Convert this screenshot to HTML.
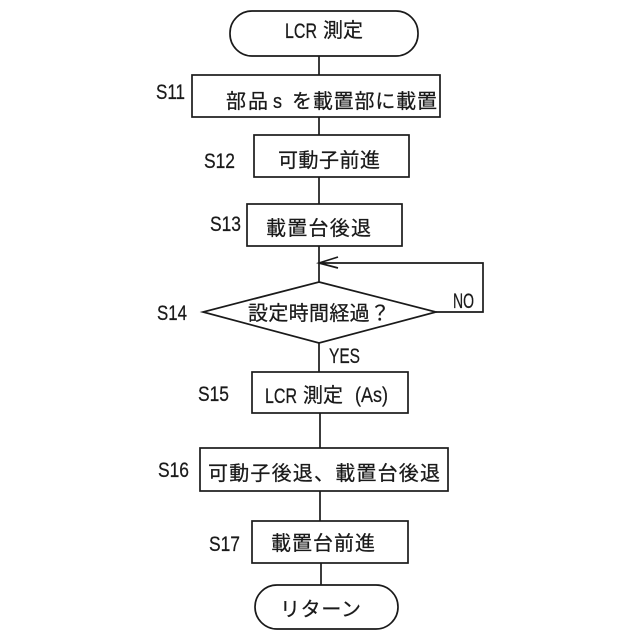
<!DOCTYPE html>
<html lang="ja">
<head>
<meta charset="utf-8">
<style>
html,body{margin:0;padding:0;background:#fff;width:640px;height:640px;overflow:hidden}
svg{display:block}
text{font-family:"Liberation Sans","Noto Sans CJK JP",sans-serif;fill:#1a1a1a;stroke:#1a1a1a;stroke-width:.25}
.j{font-size:20px}
.m{font-size:21px}
.l{font-size:21px}
</style>
</head>
<body>
<svg width="640" height="640" viewBox="0 0 640 640" xmlns="http://www.w3.org/2000/svg">
<g fill="none" stroke="#1a1a1a" stroke-width="1.7">
<path d="M319 56V75M319 117V135M319 177V204M319 246V282M319 343V372M320 413V448M320 491V521M321 563V585"/>
<rect x="230" y="11" width="188" height="45" rx="22" ry="22"/>
<rect x="192" y="75" width="248" height="42"/>
<rect x="254" y="135" width="155" height="42"/>
<rect x="247" y="204" width="155" height="42"/>
<path d="M319 282L436 312L319 343L203 312Z"/>
<path d="M436 312H483V263H319M338 257L319 263L338 268"/>
<rect x="252" y="372" width="156" height="41"/>
<rect x="200" y="448" width="248" height="43"/>
<rect x="252" y="521" width="156" height="42"/>
<rect x="255" y="585" width="143" height="44" rx="22" ry="22"/>
</g>
<text class="m" x="285" y="38" textLength="32" lengthAdjust="spacingAndGlyphs">LCR</text>
<text class="j" x="323" y="37" textLength="40" lengthAdjust="spacing">測定</text>
<text class="j" x="226" y="108" textLength="42" lengthAdjust="spacing">部品</text>
<text class="j" x="273" y="108" textLength="9" lengthAdjust="spacingAndGlyphs">s</text>
<text class="j" x="292" y="108" textLength="145" lengthAdjust="spacing">を載置部に載置</text>
<text class="j" x="278" y="167" textLength="102" lengthAdjust="spacing">可動子前進</text>
<text class="j" x="266" y="235" textLength="105" lengthAdjust="spacing">載置台後退</text>
<text class="j" x="248" y="320" textLength="142" lengthAdjust="spacing">設定時間経過？</text>
<text class="m" x="265" y="403" textLength="32" lengthAdjust="spacingAndGlyphs">LCR</text>
<text class="j" x="303" y="402" textLength="40" lengthAdjust="spacing">測定</text>
<text class="m" x="355" y="402" textLength="33" lengthAdjust="spacingAndGlyphs">(As)</text>
<text class="j" x="208" y="480" textLength="232" lengthAdjust="spacing">可動子後退、載置台後退</text>
<text class="j" x="271" y="550" textLength="104" lengthAdjust="spacing">載置台前進</text>
<text class="j" x="280" y="616" textLength="81" lengthAdjust="spacing">リターン</text>
<text class="l" x="156" y="99" textLength="29" lengthAdjust="spacingAndGlyphs">S11</text>
<text class="l" x="204" y="168" textLength="31" lengthAdjust="spacingAndGlyphs">S12</text>
<text class="l" x="210" y="231" textLength="31" lengthAdjust="spacingAndGlyphs">S13</text>
<text class="l" x="157" y="320" textLength="30" lengthAdjust="spacingAndGlyphs">S14</text>
<text class="l" x="198" y="401" textLength="31" lengthAdjust="spacingAndGlyphs">S15</text>
<text class="l" x="158" y="477" textLength="31" lengthAdjust="spacingAndGlyphs">S16</text>
<text class="l" x="209" y="551" textLength="31" lengthAdjust="spacingAndGlyphs">S17</text>
<text class="l" x="453" y="308" textLength="21" lengthAdjust="spacingAndGlyphs">NO</text>
<text class="l" x="329" y="363" textLength="31" lengthAdjust="spacingAndGlyphs">YES</text>
</svg>
</body>
</html>
